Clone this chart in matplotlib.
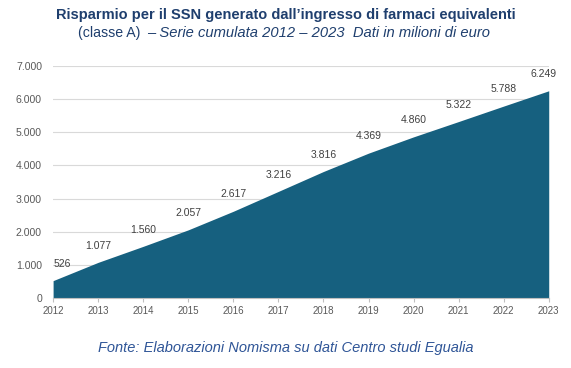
import matplotlib.pyplot as plt
from matplotlib.ticker import FuncFormatter

plt.rcParams['font.family'] = ['Liberation Sans', 'DejaVu Sans']

years = [2012, 2013, 2014, 2015, 2016, 2017, 2018, 2019, 2020, 2021, 2022, 2023]
savings = [526, 1077, 1560, 2057, 2617, 3216, 3816, 4369, 4860, 5322, 5788, 6249]

area_col = '#16607f'
title_col = '#1f3f6e'
txt_col = '#404040'

def fmt_it(v):
    return '{:,.0f}'.format(v).replace(',', '.')

fig = plt.figure(figsize=(5.71, 3.68), dpi=100)
ax = fig.add_axes([0.093, 0.19, 0.868, 0.631])

ax.fill_between(years, savings, 0, color=area_col, linewidth=0, zorder=2)
ax.set_xlim(2012, 2023)
ax.set_ylim(0, 7000)
ax.set_xticks(years)
ax.set_yticks(range(0, 7001, 1000))
ax.yaxis.set_major_formatter(FuncFormatter(lambda v, p: fmt_it(v)))
ax.grid(axis='y', color='#d9d9d9', linewidth=0.8, zorder=0)
for s in ['top', 'right', 'left']:
    ax.spines[s].set_visible(False)
ax.spines['bottom'].set_color('#bfbfbf')
ax.tick_params(axis='y', labelsize=7.6, colors='#595959', length=0, pad=8)
ax.tick_params(axis='x', labelsize=7, colors='#595959', length=3, color='#bfbfbf', pad=3)

for i, (x, y) in enumerate(zip(years, savings)):
    ha = 'center'
    dx = 0
    if i == 0:
        ha = 'left'
    elif i == len(years) - 1:
        dx = -4
    ax.annotate(fmt_it(y), (x, y), xytext=(dx, 8.5), textcoords='offset points',
                ha=ha, va='bottom', fontsize=7.5, color=txt_col)

fig.text(0.5, 0.959, 'Risparmio per il SSN generato dall\u2019ingresso di farmaci equivalenti',
         ha='center', va='center', fontsize=10.5, fontweight='bold', color=title_col)
fig.text(78 / 571, 0.91, '(classe A)', ha='left', va='center', fontsize=10.2, color=title_col)
fig.text(147 / 571, 0.91, '\u2013 Serie cumulata 2012 \u2013 2023  Dati in milioni di euro',
         ha='left', va='center', fontsize=10.6, color=title_col, style='italic')
fig.text(0.5, 0.054, 'Fonte: Elaborazioni Nomisma su dati Centro studi Egualia',
         ha='center', va='center', fontsize=10.5, color='#2f5597', style='italic')

plt.savefig('out.png', dpi=100)
